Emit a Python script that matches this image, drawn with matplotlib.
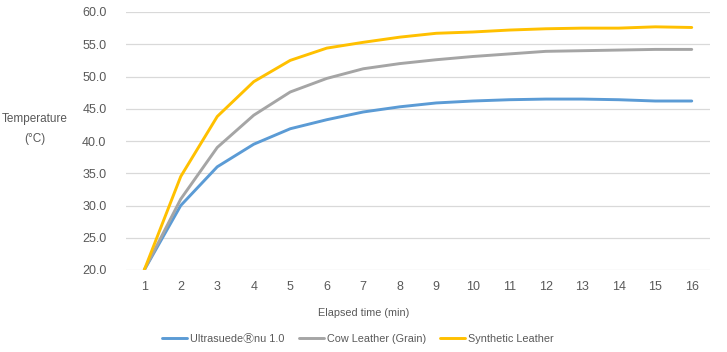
"""Heating curves of leather samples."""

import matplotlib.pyplot as plt

plt.rcParams["font.family"] = ["Liberation Sans", "Noto Sans CJK JP", "DejaVu Sans"]

# Elapsed time (min) and temperatures (deg C)
minutes = list(range(1, 17))
ultrasuede = [20.0, 30.0, 36.0, 39.5, 41.9, 43.3, 44.5, 45.3, 45.9, 46.2, 46.4, 46.5, 46.5, 46.4, 46.2, 46.2]
cow_leather = [20.0, 31.0, 39.0, 44.0, 47.6, 49.7, 51.2, 52.0, 52.6, 53.1, 53.5, 53.9, 54.0, 54.1, 54.2, 54.2]
synthetic = [20.0, 34.5, 43.8, 49.2, 52.5, 54.4, 55.3, 56.1, 56.7, 56.9, 57.2, 57.4, 57.5, 57.5, 57.7, 57.6]
series_names = ["Ultrasuede\u24c7nu 1.0", "Cow Leather (Grain)", "Synthetic Leather"]
y_ticks = [20, 25, 30, 35, 40, 45, 50, 55, 60]

colors = ["#5B9BD5", "#A5A5A5", "#FFC000"]
text_color = "#595959"

fig = plt.figure(figsize=(7.27, 3.52), dpi=100)
ax = fig.add_axes([126 / 727, 1 - 270 / 352, (710 - 126) / 727, (270 - 12) / 352])

for vals, name, c in zip([ultrasuede, cow_leather, synthetic], series_names, colors):
    ax.plot(minutes, vals, color=c, lw=2.1, label=name, solid_capstyle="round")

ax.set_xlim(0.5, 16.5)
ax.set_ylim(20, 60)
ax.set_yticks(y_ticks)
ax.set_yticklabels([f"{v:.1f}" for v in y_ticks])
ax.set_xticks(minutes)
ax.grid(axis="y", color="#D9D9D9", lw=0.9)
ax.set_axisbelow(True)
for s in ax.spines.values():
    s.set_visible(False)
ax.tick_params(length=0, labelsize=9, colors=text_color, pad=8)
ax.tick_params(axis="y", pad=14)

fig.text(35 / 727, 1 - 119 / 352, "Temperature", ha="center", va="center",
         fontsize=8.5, color=text_color)
fig.text(35 / 727, 1 - 139 / 352, "(°C)", ha="center", va="center",
         fontsize=8.5, color=text_color)
fig.text(364 / 727, 1 - 313 / 352, "Elapsed time (min)", ha="center", va="center",
         fontsize=7.8, color=text_color)

leg = fig.legend(loc="center", bbox_to_anchor=(358 / 727, 1 - 339 / 352), ncol=3,
                 frameon=False, fontsize=7.8, handlelength=2.3, handletextpad=0.3,
                 columnspacing=1.3)
for t in leg.get_texts():
    t.set_color(text_color)

fig.savefig("out.png", dpi=100)
